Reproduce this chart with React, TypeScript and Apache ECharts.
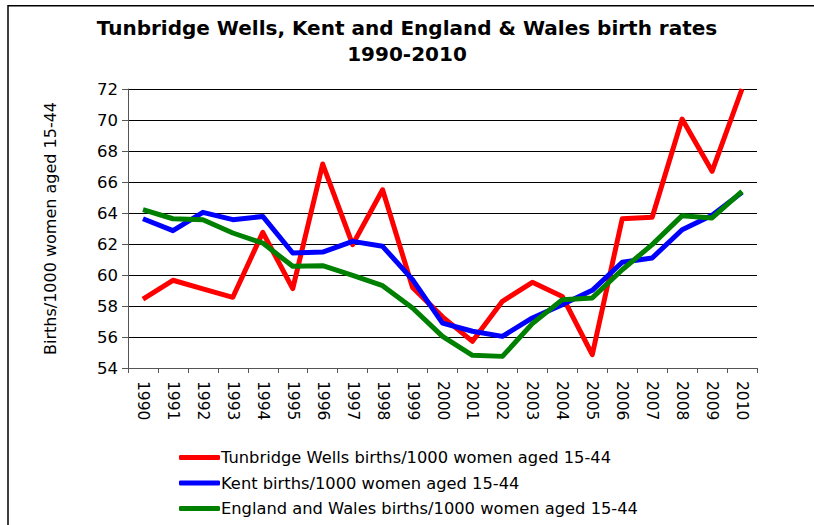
import React, { useEffect, useRef } from "react";
import * as echarts from "echarts";

const years = ["1990","1991","1992","1993","1994","1995","1996","1997","1998","1999","2000","2001","2002","2003","2004","2005","2006","2007","2008","2009","2010"];
const tunbridgeWells = [58.45, 59.66, 59.1, 58.56, 62.75, 59.12, 67.16, 61.96, 65.5, 59.2, 57.3, 55.72, 58.3, 59.53, 58.62, 54.86, 63.63, 63.72, 70.06, 66.69, 72.0];
const kent = [63.63, 62.86, 64.04, 63.57, 63.78, 61.42, 61.48, 62.17, 61.85, 59.7, 56.9, 56.37, 56.04, 57.23, 58.09, 59.01, 60.82, 61.1, 62.92, 63.85, 65.33];
const englandWales = [64.22, 63.63, 63.57, 62.71, 62.06, 60.56, 60.6, 59.98, 59.31, 57.87, 56.04, 54.82, 54.75, 56.86, 58.41, 58.52, 60.34, 61.96, 63.83, 63.68, 65.4];
const seriesNames = [
  "Tunbridge Wells births/1000 women aged 15-44",
  "Kent births/1000 women aged 15-44",
  "England and Wales births/1000 women aged 15-44",
];
const colors = ["#ff0000", "#0000ff", "#008000"];

const FONT = "DejaVu Sans";
const legendTops = [444.5, 470, 495.5];

export default function App() {
  const ref = useRef<HTMLDivElement>(null);
  useEffect(() => {
    if (!ref.current) return;
    const chart = echarts.init(ref.current, null, { renderer: "svg" });
    const data = [tunbridgeWells, kent, englandWales];
    chart.setOption({
      animation: false,
      backgroundColor: "#ffffff",
      title: {
        text: "Tunbridge Wells, Kent and England & Wales birth rates\n1990-2010",
        left: "center",
        top: 10,
        textStyle: { fontFamily: FONT, fontSize: 20, fontWeight: "bold", color: "#000", lineHeight: 26 },
      },
      graphic: [
        {
          type: "rect",
          shape: { x: 8, y: 5.7, width: 900, height: 600 },
          style: { fill: "none", stroke: "#000", lineWidth: 1.5 },
          silent: true,
        },
      ],
      legend: seriesNames.map((name, i) => ({
        orient: "vertical",
        left: 174,
        top: legendTops[i],
        itemWidth: 41,
        itemHeight: 5,
        icon: "roundRect",
        textStyle: { fontFamily: FONT, fontSize: 16.3, color: "#000", padding: [0, 0, 0, -4] },
        data: [name],
      })),
      grid: { left: 128, right: 57, top: 89, bottom: 157, containLabel: false },
      xAxis: {
        type: "category",
        data: years,
        boundaryGap: true,
        axisLine: { lineStyle: { color: "#555", width: 1 } },
        axisTick: { show: true, length: 5, lineStyle: { color: "#555" } },
        axisLabel: { rotate: -90, margin: 13, fontFamily: FONT, fontSize: 15.5, color: "#000" },
        splitLine: { show: false },
      },
      yAxis: {
        type: "value",
        min: 54,
        max: 72,
        interval: 2,
        name: "Births/1000 women aged 15-44",
        nameLocation: "middle",
        nameGap: 70,
        nameTextStyle: { fontFamily: FONT, fontSize: 16, color: "#000" },
        axisLine: { show: true, lineStyle: { color: "#555", width: 1 } },
        axisTick: { show: true, length: 6, lineStyle: { color: "#555" } },
        axisLabel: { margin: 10, fontFamily: FONT, fontSize: 16.5, color: "#000" },
        splitLine: { show: true, lineStyle: { color: "#000", width: 1 } },
      },
      series: seriesNames.map((name, i) => ({
        name,
        type: "line",
        data: data[i],
        symbol: "none",
        showSymbol: false,
        smooth: false,
        color: colors[i],
        lineStyle: { width: 5, color: colors[i], join: "round" },
        itemStyle: { color: colors[i] },
      })),
    });
    return () => chart.dispose();
  }, []);
  return <div ref={ref} style={{ position: "fixed", left: 0, top: 0, width: 814, height: 525 }} />;
}
